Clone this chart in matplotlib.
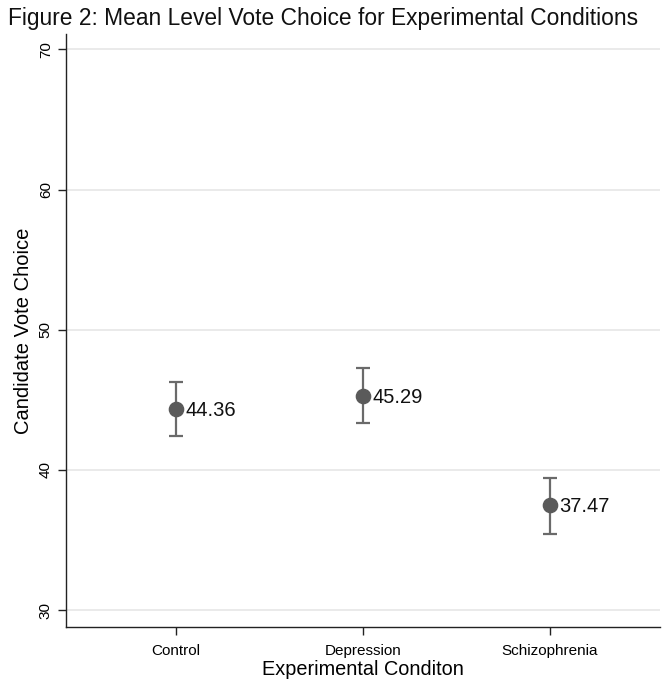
import matplotlib

matplotlib.use('Agg')
import matplotlib.pyplot as plt

# data
conditions = ['Control', 'Depression', 'Schizophrenia']
means = [44.36, 45.29, 37.47]
ci_low = [42.4, 43.35, 35.45]
ci_high = [46.3, 47.25, 39.45]

plt.rcParams['font.family'] = ['Liberation Sans', 'DejaVu Sans']

fig = plt.figure(figsize=(6.64, 6.81), dpi=100)
ax = fig.add_axes([66 / 664, 1 - 627 / 681, 594 / 664, 593 / 681])

xs = list(range(1, len(conditions) + 1))
err = [[m - lo for m, lo in zip(means, ci_low)],
       [hi - m for m, hi in zip(means, ci_high)]]

ax.errorbar(xs, means, yerr=err, fmt='none', ecolor='#6a6a6a',
            elinewidth=1.6, capsize=5, capthick=1.6, zorder=2)
ax.scatter(xs, means, s=105, color='#5a5a5a', zorder=3)
for x, m in zip(xs, means):
    ax.annotate(f'{m:.2f}', (x, m), xytext=(7, -1), textcoords='offset points',
                va='center', ha='left', fontsize=14.5, color='#111111')

ax.set_xlim(0.41, 3.59)
ax.set_ylim(28.8, 71.1)
ax.set_xticks(xs)
ax.set_xticklabels(conditions, fontsize=11)
ax.set_yticks([30, 40, 50, 60, 70])
ax.set_yticklabels(['30', '40', '50', '60', '70'], fontsize=11, rotation=90, va='center')
ax.tick_params(axis='both', length=6, width=1, color='#222222')
ax.tick_params(axis='x', pad=6)

ax.yaxis.grid(True, color='#e6e6e6', linewidth=1.2)
ax.set_axisbelow(True)
for side in ['top', 'right']:
    ax.spines[side].set_visible(False)
for side in ['left', 'bottom']:
    ax.spines[side].set_color('#222222')
    ax.spines[side].set_linewidth(1)

ax.set_xlabel('Experimental Conditon', fontsize=14.3, labelpad=2)
ax.set_ylabel('Candidate Vote Choice', fontsize=14.5, labelpad=4)
fig.text(8 / 664, 1 - 18 / 681, 'Figure 2: Mean Level Vote Choice for Experimental Conditions',
         fontsize=16.4, va='center', ha='left', color='#111111')

plt.savefig('out.png', dpi=100, facecolor='white')
plt.close()
